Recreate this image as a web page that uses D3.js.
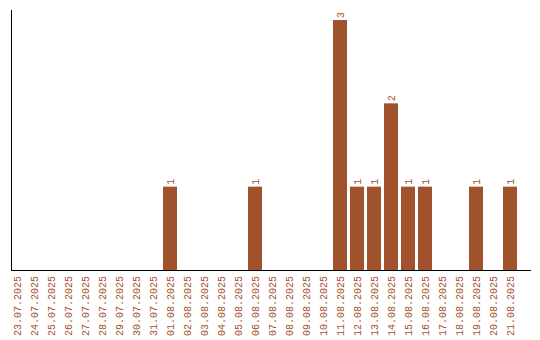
<!DOCTYPE html>
<html>
<head>
<meta charset="utf-8">
<script src="https://cdn.jsdelivr.net/npm/d3@7"></script>
<style>
	body { margin: 0; background: #fff; }
</style>
</head>
<body>
<div id="chart"></div>
<script>
// one entry per day
var days = ["23.07.2025", "24.07.2025", "25.07.2025", "26.07.2025", "27.07.2025",
	"28.07.2025", "29.07.2025", "30.07.2025", "31.07.2025", "01.08.2025",
	"02.08.2025", "03.08.2025", "04.08.2025", "05.08.2025", "06.08.2025",
	"07.08.2025", "08.08.2025", "09.08.2025", "10.08.2025", "11.08.2025",
	"12.08.2025", "13.08.2025", "14.08.2025", "15.08.2025", "16.08.2025",
	"17.08.2025", "18.08.2025", "19.08.2025", "20.08.2025", "21.08.2025"];
var counts = [0, 0, 0, 0, 0, 0, 0, 0, 0, 1,
	0, 0, 0, 0, 1, 0, 0, 0, 0, 3,
	1, 1, 2, 1, 1, 0, 0, 1, 0, 1];

var width = 540,
	height = 340,
	color = "#a0522d",
	font = "10px 'Liberation Mono'";

var svg = d3.select("#chart")
	.append("svg")
	.attr("width", width)
	.attr("height", height);

var x = d3.scaleBand()
	.domain(days)
	.range([8.5, 518.5])
	.paddingInner(3 / 17)
	.paddingOuter(3 / 34);

var y = d3.scaleLinear()
	.domain([0, 3])
	.range([270, 20]);

//bars
svg.selectAll("rect.bar")
	.data(days)
	.enter()
	.append("rect")
	.attr("class", "bar")
	.attr("x", function(d) { return x(d); })
	.attr("y", function(d, i) { return y(counts[i]); })
	.attr("width", x.bandwidth())
	.attr("height", function(d, i) { return y(0) - y(counts[i]); })
	.style("fill", color);

//value labels on top of bars
svg.selectAll("text.value")
	.data(days.filter(function(d, i) { return counts[i] > 0; }))
	.enter()
	.append("text")
	.attr("class", "value")
	.attr("transform", function(d) {
		var v = counts[days.indexOf(d)];
		return "translate(" + (x(d) + x.bandwidth() / 2 + 3.5) + "," + (y(v) - 2) + ") rotate(-90)";
	})
	.style("font", font)
	.style("fill", color)
	.text(function(d) { return counts[days.indexOf(d)]; });

//x axis labels
var xAxis = d3.axisBottom(x).tickSize(0).tickPadding(0);
var gx = svg.append("g")
	.attr("transform", "translate(0,270)")
	.call(xAxis);
gx.select(".domain").remove();
gx.selectAll("text")
	.attr("transform", "translate(3.5,6) rotate(-90)")
	.attr("x", 0)
	.attr("y", 0)
	.attr("dy", null)
	.style("text-anchor", "end")
	.style("font", font)
	.style("fill", color);

//axis lines
svg.append("line")
	.attr("x1", 11.5).attr("x2", 11.5)
	.attr("y1", 10).attr("y2", 270)
	.style("stroke", "#000");
svg.append("line")
	.attr("x1", 11).attr("x2", 531)
	.attr("y1", 270.5).attr("y2", 270.5)
	.style("stroke", "#000");
</script>
</body>
</html>
